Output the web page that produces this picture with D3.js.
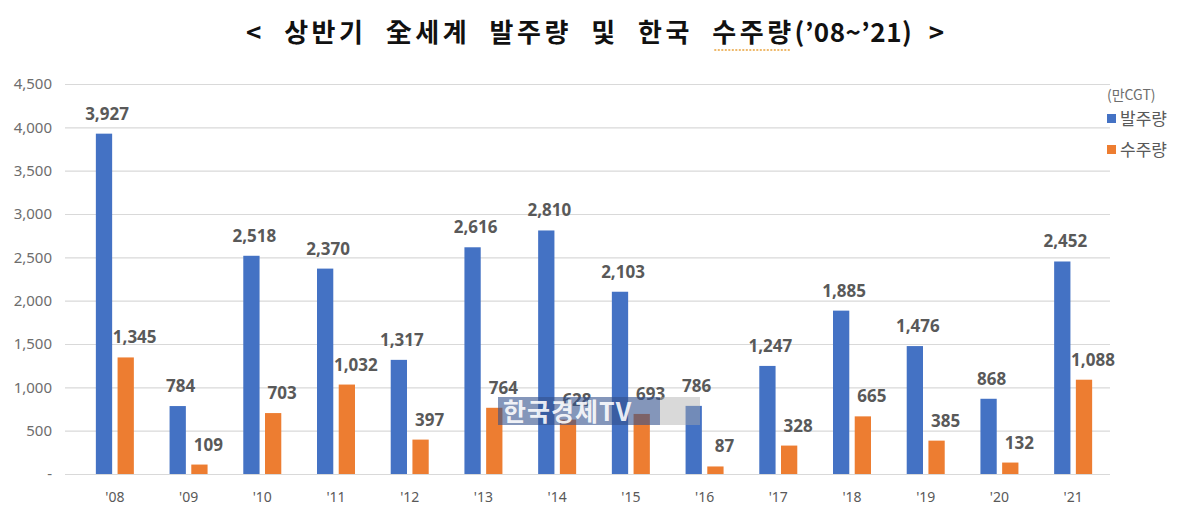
<!DOCTYPE html>
<html>
<head>
  <meta charset="utf-8">
  <script src="https://d3js.org/d3.v7.min.js"></script>
  <style>
    body { margin: 0; background: #fff; }
    text { font-family: "Noto Sans CJK KR", "Noto Sans", sans-serif; }
  </style>
</head>
<body>
<svg id="chart"></svg>
<script>
  // values (unit: 만CGT)
  const years = ["'08", "'09", "'10", "'11", "'12", "'13", "'14", "'15", "'16", "'17", "'18", "'19", "'20", "'21"];
  const worldOrders = [3927, 784, 2518, 2370, 1317, 2616, 2810, 2103, 786, 1247, 1885, 1476, 868, 2452];
  const koreaOrders = [1345, 109, 703, 1032, 397, 764, 628, 693, 87, 328, 665, 385, 132, 1088];
  const seriesNames = ["발주량", "수주량"];
  const yTicks = [0, 500, 1000, 1500, 2000, 2500, 3000, 3500, 4000, 4500];

  const colors = { "발주량": "#4472c4", "수주량": "#ed7d31" };
  const width = 1200, height = 517;

  const svg = d3.select("#chart").attr("width", width).attr("height", height);

  const x = d3.scaleBand().domain(years).range([78, 1110]);
  const x1 = d3.scaleBand().domain(seriesNames)
    .range([x.bandwidth() / 2 - 19, x.bandwidth() / 2 + 19])
    .paddingInner(0.25);
  const y = d3.scaleLinear().domain([0, 4500]).range([474, 84]);

  // title
  const title = svg.append("text")
    .attr("x", 595).attr("y", 42)
    .attr("text-anchor", "middle")
    .style("font-size", "26px").style("font-weight", "bold").style("fill", "#111")
    .style("word-spacing", "10px");
  title.append("tspan").style("letter-spacing", "3.5px").text("< 상반기 全세계 발주량 및 한국 ");
  title.append("tspan").attr("id", "squig").style("letter-spacing", "3.5px").text("수주량");
  title.append("tspan").style("letter-spacing", "0.5px").text("(’08~’21) ");
  title.append("tspan").text(">");

  // spell-check squiggle under 수주량
  const sb = document.getElementById("squig").getBBox();
  svg.append("line")
    .attr("x1", sb.x + 2).attr("x2", sb.x + sb.width - 4).attr("y1", 50).attr("y2", 50)
    .style("stroke", "#e9a23b").style("stroke-width", 1.5).style("stroke-dasharray", "2,1.5");

  // gridlines + y labels
  const yAxis = svg.append("g").attr("transform", "translate(65,0)")
    .call(d3.axisLeft(y).tickValues(yTicks).tickSize(-1045)
      .tickFormat(d => d === 0 ? "-" : d3.format(",")(d)));
  yAxis.select(".domain").remove();
  yAxis.selectAll(".tick line").style("stroke", "#d9d9d9").style("stroke-width", 1.2);
  yAxis.selectAll(".tick text")
    .attr("x", -13)
    .style("font-size", "15px").style("fill", "#6d6d6d")
    .style("font-family", "'Noto Sans', sans-serif");

  // x labels
  const xAxis = svg.append("g").attr("transform", "translate(0,474)")
    .call(d3.axisBottom(x).tickSize(0));
  xAxis.select(".domain").remove();
  xAxis.selectAll(".tick text")
    .attr("y", 18)
    .style("font-size", "14px").style("fill", "#595959")
    .style("font-family", "'Noto Sans', sans-serif");

  const rows = years.map((yr, i) => ({ year: yr, "발주량": worldOrders[i], "수주량": koreaOrders[i] }));

  const groups = svg.append("g").selectAll("g")
    .data(rows).enter().append("g")
    .attr("transform", d => `translate(${x(d.year)},0)`);

  groups.selectAll("rect")
    .data(d => seriesNames.map(k => ({ key: k, value: d[k] })))
    .enter().append("rect")
    .attr("x", d => x1(d.key))
    .attr("width", x1.bandwidth())
    .attr("y", d => y(d.value))
    .attr("height", d => y(0) - y(d.value))
    .style("fill", d => colors[d.key]);

  groups.selectAll("text.lbl")
    .data(d => seriesNames.map(k => ({ key: k, value: d[k] })))
    .enter().append("text")
    .attr("class", "lbl")
    .attr("x", d => x1(d.key) + x1.bandwidth() / 2 + (d.key === "수주량" ? 9 : 3))
    .attr("y", d => y(d.value) - 14)
    .attr("text-anchor", "middle")
    .style("font-size", "17px").style("font-weight", "bold").style("fill", "#595959")
    .style("font-family", "'Noto Sans', sans-serif")
    .text(d => d3.format(",")(d.value));

  // legend
  svg.append("text").attr("x", 1107).attr("y", 100)
    .style("font-size", "14px").style("fill", "#6d6d6d").text("(만CGT)");
  seriesNames.forEach((k, i) => {
    svg.append("rect").attr("x", 1107).attr("y", 114 + i * 31).attr("width", 9).attr("height", 9)
      .style("fill", colors[k]);
    svg.append("text").attr("x", 1120).attr("y", 125 + i * 31)
      .style("font-size", "17px").style("fill", "#595959").text(k);
  });

  // broadcaster watermark
  const wm = svg.append("g");
  wm.append("rect").attr("x", 498).attr("y", 397).attr("width", 162).attr("height", 28)
    .style("fill", "rgba(50,80,140,0.6)");
  wm.append("rect").attr("x", 660).attr("y", 397).attr("width", 40).attr("height", 28)
    .style("fill", "rgba(170,170,170,0.45)");
  wm.append("text").attr("x", 503).attr("y", 421)
    .style("font-size", "25px").style("fill", "rgba(255,255,255,0.9)")
    .style("font-weight", "bold").style("letter-spacing", "1px").text("한국경제TV");
</script>
</body>
</html>
